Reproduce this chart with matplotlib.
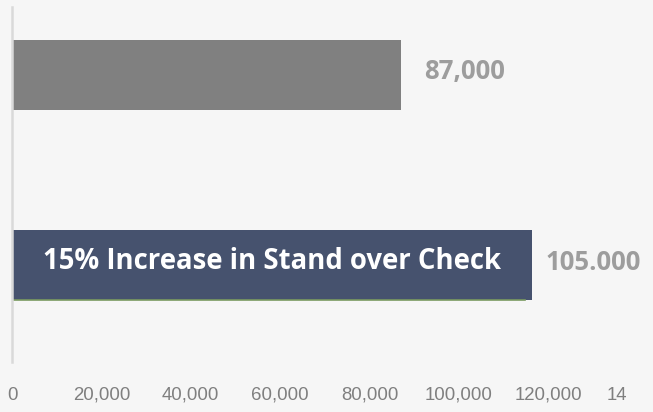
import matplotlib.pyplot as plt
from matplotlib.transforms import ScaledTranslation
import numpy as np

# data
categories = ['Treated', 'Check']          # bottom, top
values = [116300, 87000]                    # bar lengths as drawn
value_labels = ['105.000', '87,000']
bar_colors = ['#46526e', '#808080']
bar_text = '15% Increase in Stand over Check'
xticks = [0, 20000, 40000, 60000, 80000, 100000, 120000, 140000]
xtick_labels = ['0', '20,000', '40,000', '60,000', '80,000', '100,000', '120,000', '14']

bg = '#f6f6f6'
fig = plt.figure(figsize=(6.53, 4.12), dpi=100, facecolor=bg)
ax = fig.add_axes([12 / 653, 50 / 412, 641 / 653, 355 / 412], facecolor=bg)

y = np.arange(len(categories))
bh = 0.365
ax.barh(y, values, height=bh, color=bar_colors)
# thin green edge under the lower bar
ax.plot([0, values[0] - 1500], [y[0] - bh / 2, y[0] - bh / 2], color='#7a9a60', lw=1.2)

ax.set_xlim(0, 641 / 89.4 * 20000)
ax.set_ylim(-0.51, 1.358)

for s in ['top', 'right', 'bottom']:
    ax.spines[s].set_visible(False)
ax.spines['left'].set_color('#d9d9d9')
ax.spines['left'].set_linewidth(1.8)

ax.set_yticks([])
ax.set_xticks(xticks)
ax.set_xticklabels(xtick_labels, fontsize=13.4, color='#7f7f7f', family='Liberation Sans')
ax.tick_params(axis='x', length=0, pad=18)
last = ax.get_xticklabels()[-1]
last.set_ha('left')
last.set_transform(last.get_transform() + ScaledTranslation(-0.31, 0, fig.dpi_scale_trans))

# value labels
ax.text(values[1] + 5300, y[1] + 0.02, value_labels[1], va='center', ha='left',
        fontsize=18.5, fontweight='bold', color='#9d9d9d', family='Open Sans')
ax.text(values[0] + 3000, y[0] + 0.015, value_labels[0], va='center', ha='left',
        fontsize=18.5, fontweight='bold', color='#9d9d9d', family='Open Sans')

# text inside bar
ax.text(values[0] / 2, y[0] + 0.02, bar_text, va='center', ha='center',
        fontsize=19.8, fontweight='bold', color='white', family='Open Sans')

fig.savefig('out.png', dpi=100, facecolor=bg)
